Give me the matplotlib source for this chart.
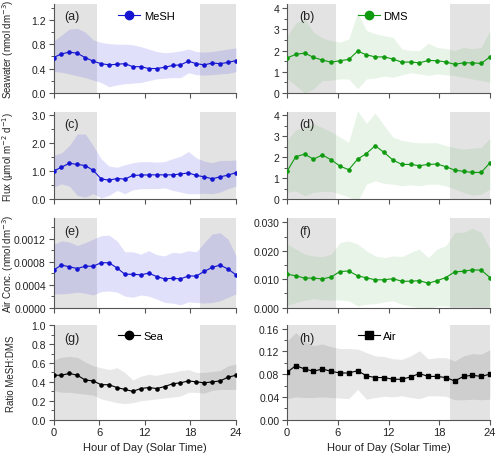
import numpy as np
import matplotlib
matplotlib.use("Agg")
import matplotlib.pyplot as plt
from matplotlib.ticker import MultipleLocator, FormatStrFormatter

plt.rcParams['font.family'] = ['Liberation Sans', 'DejaVu Sans']
plt.rcParams['font.size'] = 8

# ----------------------------
# Data (24 hourly bins spread across 0-24 h)
# ----------------------------
hours = [0, 1.04, 2.09, 3.13, 4.17, 5.22, 6.26, 7.3, 8.35, 9.39, 10.43, 11.48,
         12.52, 13.57, 14.61, 15.65, 16.7, 17.74, 18.78, 19.83, 20.87, 21.91, 22.96, 24]

night_end = 5.75
night_start = 19.25

# (a) seawater MeSH
sw_mesh = [0.58, 0.64, 0.67, 0.65, 0.58, 0.52, 0.48, 0.46, 0.47, 0.48, 0.43, 0.43,
           0.40, 0.40, 0.42, 0.45, 0.46, 0.52, 0.48, 0.46, 0.49, 0.48, 0.50, 0.53]
sw_mesh_hi = [0.85, 0.95, 1.05, 1.06, 1.0, 0.87, 0.83, 0.81, 0.80, 0.80, 0.79, 0.76,
              0.72, 0.68, 0.66, 0.67, 0.69, 0.72, 0.68, 0.67, 0.68, 0.70, 0.72, 0.74]
sw_mesh_lo = [0.35, 0.34, 0.31, 0.28, 0.25, 0.21, 0.17, 0.10, 0.13, 0.15, 0.16, 0.17,
              0.20, 0.23, 0.24, 0.25, 0.25, 0.33, 0.30, 0.29, 0.30, 0.31, 0.32, 0.35]

# (b) seawater DMS
sw_dms = [1.65, 1.82, 1.88, 1.68, 1.55, 1.45, 1.52, 1.58, 1.97, 1.80, 1.70, 1.70,
          1.60, 1.45, 1.46, 1.42, 1.53, 1.52, 1.46, 1.35, 1.42, 1.42, 1.39, 1.70]
sw_dms_hi = [2.68, 3.3, 3.5, 2.87, 2.6, 2.47, 2.4, 2.55, 3.8, 2.95, 2.8, 2.7,
             2.63, 2.08, 2.0, 2.0, 2.35, 2.15, 2.1, 2.0, 2.15, 2.08, 2.15, 2.95]
sw_dms_lo = [0.66, 0.35, 0.0, 0.19, 0.58, 0.6, 0.66, 0.66, 0.19, 0.66, 0.7, 0.8,
             0.74, 0.85, 0.95, 0.9, 0.82, 0.9, 0.85, 0.82, 0.74, 0.66, 0.58, 0.5]

# (c) flux MeSH
fx_mesh = [0.99, 1.13, 1.27, 1.23, 1.19, 1.02, 0.72, 0.67, 0.73, 0.71, 0.84, 0.85,
           0.86, 0.86, 0.86, 0.86, 0.89, 0.93, 0.84, 0.79, 0.72, 0.79, 0.85, 0.94]
fx_mesh_hi = [1.55, 1.64, 1.9, 2.31, 2.31, 1.9, 1.43, 1.17, 1.13, 1.22, 1.29, 1.33,
              1.33, 1.31, 1.33, 1.43, 1.52, 1.69, 1.46, 1.35, 1.29, 1.37, 1.37, 1.39]
fx_mesh_lo = [0.42, 0.54, 0.46, 0.13, 0.07, 0.19, 0.04, 0.13, 0.31, 0.19, 0.33, 0.37,
              0.37, 0.37, 0.40, 0.31, 0.25, 0.19, 0.19, 0.21, 0.19, 0.25, 0.37, 0.46]

# (d) flux DMS
fx_dms = [1.32, 2.02, 2.14, 1.90, 2.10, 1.87, 1.57, 1.40, 1.90, 2.17, 2.54, 2.22,
          1.86, 1.65, 1.65, 1.59, 1.65, 1.67, 1.54, 1.38, 1.32, 1.27, 1.27, 1.73]
fx_dms_hi = [2.8, 3.3, 3.4, 3.6, 3.4, 3.2, 2.95, 2.7, 4.2, 3.6, 4.1, 3.5,
             2.95, 2.8, 2.72, 2.68, 2.68, 2.68, 2.55, 2.45, 2.38, 2.42, 2.46, 2.9]
fx_dms_lo = [0.32, 0.40, 0.16, 0.32, 0.37, 0.37, 0.24, 0.10, -0.1, 0.71, 0.87, 0.75,
             0.71, 0.63, 0.68, 0.63, 0.71, 0.71, 0.63, 0.48, 0.32, 0.19, 0.24, 0.48]

# (e) air MeSH
air_mesh = [0.00065, 0.00074, 0.00071, 0.00068, 0.00072, 0.00072, 0.00078, 0.00078,
            0.00069, 0.00058, 0.00058, 0.00057, 0.00060, 0.00054, 0.00050, 0.00051,
            0.00050, 0.00055, 0.00055, 0.00063, 0.00070, 0.00074, 0.00067, 0.00057]
air_mesh_hi = [0.00110, 0.00116, 0.00114, 0.00108, 0.00113, 0.00119, 0.00125, 0.00126,
               0.00116, 0.00097, 0.00097, 0.00093, 0.00099, 0.00092, 0.00090, 0.00096,
               0.00095, 0.00099, 0.00097, 0.00113, 0.00128, 0.00130, 0.00119, 0.00090]
air_mesh_lo = [0.00024, 0.00024, 0.00025, 0.00027, 0.00025, 0.00022, 0.00028, 0.00029,
               0.00027, 0.00020, 0.00018, 0.00022, 0.00020, 0.00015, 0.00009, 0.00008,
               0.00005, 0.00010, 0.00009, 0.00008, 0.00009, 0.00012, 0.00018, 0.00024]

# (f) air DMS
air_dms = [0.0118, 0.0112, 0.0104, 0.0104, 0.0101, 0.0108, 0.0127, 0.0129,
           0.0112, 0.0105, 0.0098, 0.0098, 0.0102, 0.0093, 0.0093, 0.0095,
           0.0086, 0.0095, 0.0106, 0.0126, 0.0128, 0.0133, 0.0132, 0.0106]
air_dms_hi = [0.0224, 0.0206, 0.0188, 0.0182, 0.0179, 0.0188, 0.0229, 0.0235,
              0.0224, 0.0200, 0.0182, 0.0176, 0.0182, 0.0180, 0.0194, 0.0206,
              0.0176, 0.0206, 0.0218, 0.0265, 0.0265, 0.0279, 0.0265, 0.0206]
air_dms_lo = [0.0008, 0.0018, 0.0026, 0.0032, 0.0027, 0.0027, 0.0027, 0.0024,
              0.0006, 0.0012, 0.0014, 0.0020, 0.0024, 0.0012, 0.0006, 0.0000,
              -0.0004, 0.0006, 0.0006, 0.0003, 0.0004, 0.0003, 0.0003, 0.0004]

# (g) ratio in seawater
ratio_sea = [0.47, 0.47, 0.49, 0.47, 0.42, 0.41, 0.37, 0.37, 0.34, 0.32, 0.30, 0.33,
             0.34, 0.33, 0.35, 0.38, 0.39, 0.41, 0.40, 0.39, 0.40, 0.41, 0.45, 0.47]
ratio_sea_hi = [0.63, 0.66, 0.67, 0.66, 0.61, 0.57, 0.55, 0.53, 0.55, 0.50, 0.42, 0.46,
                0.48, 0.47, 0.49, 0.50, 0.52, 0.53, 0.50, 0.50, 0.51, 0.52, 0.57, 0.59]
ratio_sea_lo = [0.31, 0.29, 0.29, 0.28, 0.27, 0.26, 0.22, 0.20, 0.18, 0.17, 0.18, 0.20,
                0.21, 0.22, 0.23, 0.24, 0.25, 0.29, 0.29, 0.28, 0.31, 0.32, 0.32, 0.32]

# (h) ratio in air
ratio_air = [0.083, 0.095, 0.089, 0.085, 0.089, 0.085, 0.082, 0.082, 0.086, 0.077,
             0.074, 0.074, 0.071, 0.071, 0.075, 0.081, 0.076, 0.076, 0.074, 0.068,
             0.076, 0.078, 0.076, 0.080]
ratio_air_hi = [0.138, 0.153, 0.138, 0.130, 0.133, 0.128, 0.125, 0.125, 0.124, 0.118,
                0.112, 0.111, 0.107, 0.106, 0.112, 0.121, 0.107, 0.109, 0.109, 0.103,
                0.112, 0.116, 0.115, 0.123]
ratio_air_lo = [0.037, 0.040, 0.039, 0.039, 0.040, 0.039, 0.038, 0.037, 0.053, 0.036,
                0.039, 0.041, 0.040, 0.042, 0.039, 0.037, 0.042, 0.042, 0.041, 0.035,
                0.035, 0.036, 0.035, 0.036]

# ----------------------------
# Styles
# ----------------------------
blue = '#1414d2'
green = '#109a10'
black = '#000000'
axis_grey = '#555555'

fig = plt.figure(figsize=(5, 4.6), dpi=100)

left_x, left_w = 0.107, 0.365
right_x, right_w = 0.574, 0.406
rows = [(0.796, 0.193), (0.565, 0.190), (0.329, 0.194), (0.0854, 0.2056)]

panels = [
    # (label, row, col, y, hi, lo, color, band, band alpha, marker, ylim, major, minor, fmt, ylabel, legend)
    ('(a)', 0, 0, sw_mesh, sw_mesh_hi, sw_mesh_lo, blue, '#4a4ae6', 0.17, 'o', 1.46, 0.4, 0.2, '%.1f',
     'Seawater (nmol dm$^{-3}$)', 'MeSH'),
    ('(b)', 0, 1, sw_dms, sw_dms_hi, sw_dms_lo, green, '#4cae4c', 0.13, 'o', 4.2, 1, 0.5, '%d',
     None, 'DMS'),
    ('(c)', 1, 0, fx_mesh, fx_mesh_hi, fx_mesh_lo, blue, '#4a4ae6', 0.17, 'o', 3.1, 1.0, 0.5, '%.1f',
     'Flux (µmol m$^{-2}$ d$^{-1}$)', None),
    ('(d)', 1, 1, fx_dms, fx_dms_hi, fx_dms_lo, green, '#4cae4c', 0.13, 'o', 4.16, 1, 0.5, '%d',
     None, None),
    ('(e)', 2, 0, air_mesh, air_mesh_hi, air_mesh_lo, blue, '#4a4ae6', 0.17, 'o', 0.00155, 0.0004, 0.0002, '%.4f',
     'Air Conc. (nmol dm$^{-3}$)', None),
    ('(f)', 2, 1, air_dms, air_dms_hi, air_dms_lo, green, '#4cae4c', 0.13, 'o', 0.0314, 0.010, 0.005, '%.3f',
     None, None),
    ('(g)', 3, 0, ratio_sea, ratio_sea_hi, ratio_sea_lo, black, '#000000', 0.09, 'o', 1.0, 0.2, 0.1, '%.1f',
     'Ratio MeSH:DMS', 'Sea'),
    ('(h)', 3, 1, ratio_air, ratio_air_hi, ratio_air_lo, black, '#000000', 0.09, 's', 0.166, 0.04, 0.02, '%.2f',
     None, 'Air'),
]

for (lab, r, c, y, hi, lo, col, band, balpha, mk, ytop, major, minor, fmt, ylabel, leg) in panels:
    bottom, height = rows[r]
    if c == 0:
        ax = fig.add_axes([left_x, bottom, left_w, height])
    else:
        ax = fig.add_axes([right_x, bottom, right_w, height])

    # night shading
    ax.axvspan(0, night_end, color='#e3e3e3', zorder=0, lw=0)
    ax.axvspan(night_start, 24, color='#e3e3e3', zorder=0, lw=0)

    ax.fill_between(hours, lo, hi, color=band, alpha=balpha, lw=0, zorder=1)
    ax.plot(hours, y, color=col, lw=0.8, marker=mk, ms=2.3, zorder=3, label=leg)

    ax.set_xlim(0, 24)
    ax.set_ylim(0, ytop)
    ax.set_xticks([0, 6, 12, 18, 24])
    ax.yaxis.set_major_locator(MultipleLocator(major))
    ax.yaxis.set_minor_locator(MultipleLocator(minor))
    ax.yaxis.set_major_formatter(FormatStrFormatter(fmt))

    for s in ['top', 'right']:
        ax.spines[s].set_visible(False)
    for s in ['left', 'bottom']:
        ax.spines[s].set_color(axis_grey)
        ax.spines[s].set_linewidth(0.8)
    ax.tick_params(direction='out', colors=axis_grey, labelcolor='#222222',
                   labelsize=7.5, length=3.5, width=0.8, pad=2)
    ax.tick_params(axis='x', labelsize=8)
    ax.tick_params(which='minor', direction='out', colors=axis_grey, length=2, width=0.7)

    if r < 3:
        ax.tick_params(axis='x', labelbottom=False)
    else:
        ax.set_xlabel('Hour of Day (Solar Time)', fontsize=8, color='#222222', labelpad=3)

    if ylabel:
        ax.set_ylabel(ylabel, fontsize=7, color='#222222')
        # label sits about 5-16 px from the figure's left edge
        ax.yaxis.set_label_coords(-0.205, 0.5)

    ax.text(0.06, 0.86, lab, transform=ax.transAxes, fontsize=9, color='#222222',
            va='center', ha='left', zorder=5)

    if leg:
        ax.legend(loc='upper left', bbox_to_anchor=(0.3, 1.04), frameon=False,
                  fontsize=8, markerscale=2.6, handlelength=2.0, handletextpad=0.3)

plt.savefig('out.png', dpi=100)
